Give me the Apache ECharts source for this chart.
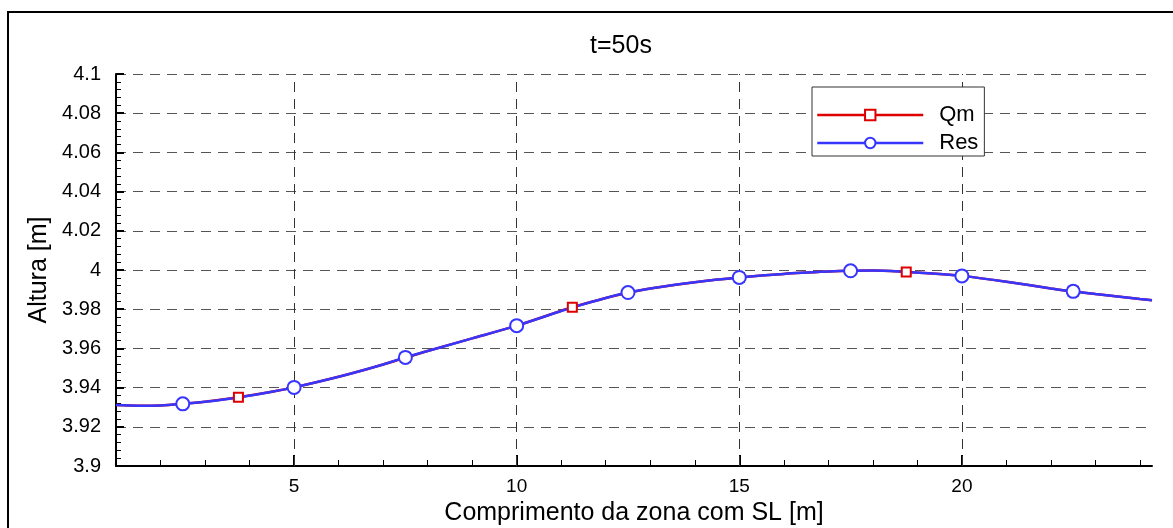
<!DOCTYPE html>
<html>
<head>
<meta charset="utf-8">
<script src="https://cdn.jsdelivr.net/npm/echarts@6/dist/echarts.min.js"></script>
<style>
html,body{margin:0;padding:0;background:#fff;}
#c{width:1173px;height:528px;}
</style>
</head>
<body>
<div id="c"></div>
<script>
// ---- data ----
const xs    = [1, 1.5, 2, 2.5, 3, 3.75, 4.5, 5, 6, 7, 7.5, 8, 9, 10, 11, 11.25, 12, 12.5, 13, 14, 15, 16, 17, 17.5, 18, 18.75, 19.5, 20, 21, 22, 22.5, 23, 24, 24.27];
const qmH   = [3.9311, 3.9308, 3.9309, 3.9317, 3.9328, 3.9351, 3.9379, 3.9401, 3.9455, 3.9518, 3.9553, 3.9587, 3.9651, 3.9716, 3.9792, 3.9810, 3.9857, 3.9884, 3.9906, 3.9938, 3.9962, 3.9980, 3.9992, 3.9996, 3.9997, 3.9990, 3.9980, 3.9970, 3.9940, 3.9906, 3.9891, 3.9877, 3.9852, 3.9846];
const resH  = [3.9311, 3.9308, 3.9309, 3.9317, 3.9328, 3.9350, 3.9379, 3.9401, 3.9455, 3.9518, 3.9554, 3.9587, 3.9651, 3.9716, 3.9791, 3.9809, 3.9857, 3.9885, 3.9906, 3.9938, 3.9962, 3.9980, 3.9992, 3.9996, 3.9997, 3.9990, 3.9980, 3.9970, 3.9940, 3.9906, 3.9891, 3.9877, 3.9852, 3.9846];
const qmMarkX  = [3.75, 7.5, 11.25, 15, 18.75, 22.5];
const resMarkX = [2.5, 5, 7.5, 10, 12.5, 15, 17.5, 20, 22.5];
const xMajorTicks = [5, 10, 15, 20];
const xMinorTicks = [2, 3, 4, 6, 7, 8, 9, 11, 12, 13, 14, 16, 17, 18, 19, 21, 22, 23, 24];
const seriesNames = ['Qm', 'Res'];
const titleText = 't=50s';
const xName = 'Comprimento da zona com SL [m]';
const yName = 'Altura [m]';

const FONT = "'Liberation Sans', Arial, Helvetica, sans-serif";
const RED = '#dd0000';
const BLUE = '#3636ff';

function build(hs, marks, sym) {
  return xs.map((x, i) => ({
    value: [x, hs[i]],
    symbol: marks.indexOf(x) >= 0 ? sym : 'none'
  }));
}

const chart = echarts.init(document.getElementById('c'), null, {renderer: 'canvas'});
chart.setOption({
  animation: false,
  backgroundColor: '#fff',
  textStyle: {fontFamily: FONT, color: '#000'},
  title: {
    text: titleText,
    left: 616, top: 29, textAlign: 'center',
    textStyle: {fontSize: 25, fontWeight: 'normal', color: '#000', fontFamily: FONT}
  },
  graphic: [{
    type: 'rect', silent: true, z: 100,
    shape: {x: 8, y: 12, width: 1200, height: 600},
    style: {fill: 'none', stroke: '#000', lineWidth: 2}
  }],
  legend: {
    orient: 'vertical', left: 812, top: 87,
    itemWidth: 106, itemHeight: 13, itemGap: 6,
    padding: [17, 6, 2, 4],
    borderColor: '#333', borderWidth: 1, backgroundColor: '#fff',
    lineStyle: {width: 2.5},
    textStyle: {fontSize: 22, color: '#000', fontFamily: FONT, padding: [0, 0, 0, 11]},
    data: seriesNames
  },
  grid: {left: 116, right: 21, top: 74, bottom: 62, containLabel: false, outerBoundsMode: 'none'},
  xAxis: [{
    type: 'value', min: 1, max: 24.27,
    name: xName, nameLocation: 'middle', nameGap: 33,
    nameTextStyle: {fontSize: 25, color: '#000', fontFamily: FONT},
    axisLine: {show: true, lineStyle: {color: '#000', width: 2}},
    axisTick: {show: true, inside: true, length: 6, customValues: xMinorTicks, lineStyle: {color: '#000', width: 1}},
    axisLabel: {show: true, customValues: xMajorTicks, fontSize: 19, color: '#000', margin: 11, fontFamily: FONT},
    splitLine: {show: false}
  }, {
    type: 'value', min: 1, max: 24.27, position: 'bottom', gridIndex: 0,
    axisLine: {show: false},
    axisTick: {show: true, inside: true, length: 11, customValues: xMajorTicks, lineStyle: {color: '#000', width: 2}},
    axisLabel: {show: false},
    splitLine: {show: false}
  }],
  yAxis: {
    type: 'value', min: 3.9, max: 4.1, interval: 0.02,
    name: yName, nameLocation: 'middle', nameGap: 60,
    nameTextStyle: {fontSize: 25, color: '#000', fontFamily: FONT},
    axisLine: {show: true, lineStyle: {color: '#000', width: 2}},
    axisTick: {show: true, inside: true, length: 8, lineStyle: {color: '#000', width: 2}},
    minorTick: {show: true, splitNumber: 5, length: 5, lineStyle: {color: '#000', width: 1}},
    axisLabel: {fontSize: 20, color: '#000', margin: 15, fontFamily: FONT},
    splitLine: {show: true, lineStyle: {color: '#555', width: 1, type: [10, 7]}}
  },
  series: [{
    name: seriesNames[0], type: 'line', xAxisIndex: 0,
    data: build(qmH, qmMarkX, 'emptyRect'),
    symbol: 'emptyRect', symbolSize: 9, smooth: 0.3,
    color: RED,
    lineStyle: {color: RED, width: 2.5},
    itemStyle: {color: RED, borderColor: RED, borderWidth: 1.8},
    markLine: {
      silent: true, z: 1, symbol: ['none', 'none'],
      label: {show: false},
      lineStyle: {color: '#333', width: 1, type: [10, 7]},
      data: xMajorTicks.map(v => ({xAxis: v}))
    }
  }, {
    name: seriesNames[1], type: 'line', xAxisIndex: 0,
    data: build(resH, resMarkX, 'emptyCircle'),
    symbol: 'emptyCircle', symbolSize: 13, smooth: 0.3,
    color: BLUE,
    lineStyle: {color: BLUE, width: 2.5},
    itemStyle: {color: BLUE, borderColor: BLUE, borderWidth: 2}
  }]
});
</script>
</body>
</html>
